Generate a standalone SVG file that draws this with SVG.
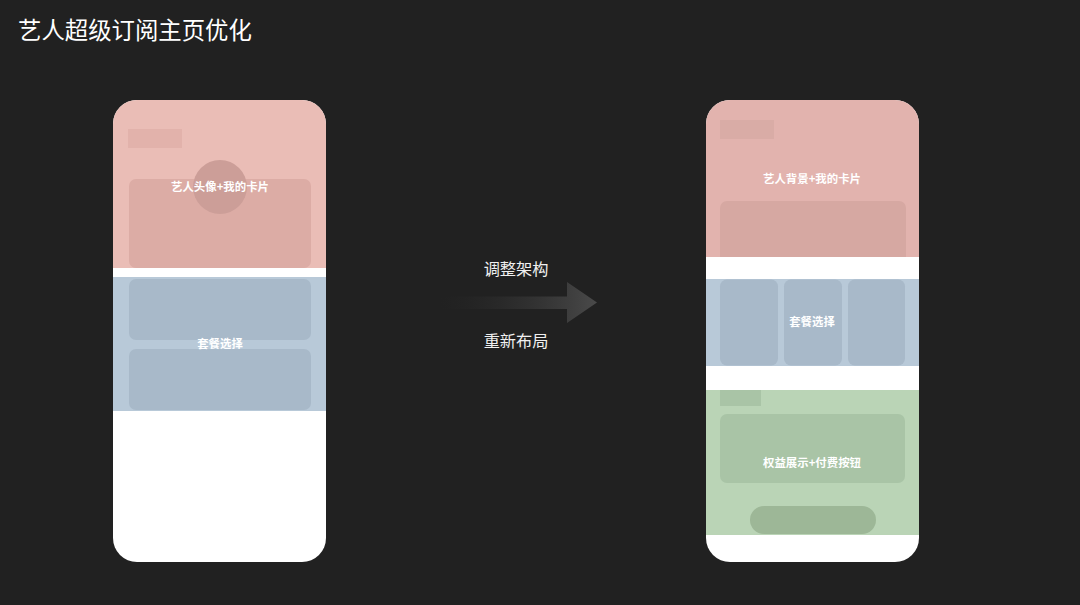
<svg xmlns="http://www.w3.org/2000/svg" width="1080" height="605" viewBox="0 0 1080 605">
<defs>
<style>
.t{font-family:"Noto Sans CJK SC","Liberation Sans",sans-serif;fill:#ffffff}
.lbl{font-size:11.4px;font-weight:bold;text-anchor:middle}
.mid{font-size:16.2px;text-anchor:middle;fill:#f0f0f0}
</style>
<clipPath id="cl"><rect x="113" y="100" width="213" height="462" rx="24"/></clipPath>
<clipPath id="cr"><rect x="706" y="100" width="213" height="462" rx="24"/></clipPath>
<linearGradient id="ag" x1="440" y1="0" x2="597" y2="0" gradientUnits="userSpaceOnUse">
<stop offset="0" stop-color="#2a2a2a" stop-opacity="0"/>
<stop offset="1" stop-color="#4a4a4a"/>
</linearGradient>
</defs>
<rect width="1080" height="605" fill="#212121"/>
<text class="t" x="18" y="39" font-size="23.4" fill="#f2f2f2">艺人超级订阅主页优化</text>

<g id="phone-before" clip-path="url(#cl)">
<rect x="113" y="100" width="213" height="462" fill="#ffffff"/>
<g id="before-header">
<rect x="113" y="100" width="213" height="168" fill="#eabdb6"/>
<rect x="128" y="129" width="54" height="19" fill="#e2b2ab"/>
<rect x="129" y="179" width="182" height="89" rx="7" fill="#dcaca5"/>
<circle cx="220" cy="187" r="27" fill="#cc9e98"/>
<text class="t lbl" x="220" y="191">艺人头像+我的卡片</text>
</g>
<g id="before-plans">
<rect x="113" y="277" width="213" height="134" fill="#b8c9d8"/>
<rect x="129" y="279" width="182" height="61" rx="7" fill="#a8b9c9"/>
<rect x="129" y="349" width="182" height="61" rx="7" fill="#a8b9c9"/>
<text class="t lbl" x="220" y="348">套餐选择</text>
</g>
</g>

<g id="connectors">
<path d="M440 296.5 H567 V282 L597 302.5 L567 323 V309 H440 Z" fill="url(#ag)"/>
<text class="t mid" x="516" y="275">调整架构</text>
<text class="t mid" x="516" y="347">重新布局</text>
</g>

<g id="phone-after" clip-path="url(#cr)">
<rect x="706" y="100" width="213" height="462" fill="#ffffff"/>
<g id="after-header">
<rect x="706" y="100" width="213" height="157" fill="#e2b3ae"/>
<rect x="720" y="120" width="54" height="19" fill="#d9aca6"/>
<path d="M720 257 V208 a7 7 0 0 1 7 -7 H899 a7 7 0 0 1 7 7 V257 Z" fill="#d6a8a2"/>
<text class="t lbl" x="812" y="183">艺人背景+我的卡片</text>
</g>
<g id="after-plans">
<rect x="706" y="279" width="213" height="87" fill="#b8c9d8"/>
<rect x="720" y="279.5" width="58" height="86" rx="7" fill="#a8b9c9"/>
<rect x="784" y="279.5" width="58" height="86" rx="7" fill="#a8b9c9"/>
<rect x="848" y="279.5" width="57" height="86" rx="7" fill="#a8b9c9"/>
<text class="t lbl" x="812" y="326">套餐选择</text>
</g>
<g id="after-benefits">
<rect x="706" y="390" width="213" height="145" fill="#bad4b6"/>
<rect x="720" y="390" width="41" height="16" fill="#a9c4a6"/>
<rect x="720" y="414" width="185" height="69" rx="7" fill="#a9c4a6"/>
<text class="t lbl" x="812" y="467">权益展示+付费按钮</text>
<rect x="750" y="506" width="126" height="28" rx="14" fill="#9db797"/>
</g>
</g>
</svg>
